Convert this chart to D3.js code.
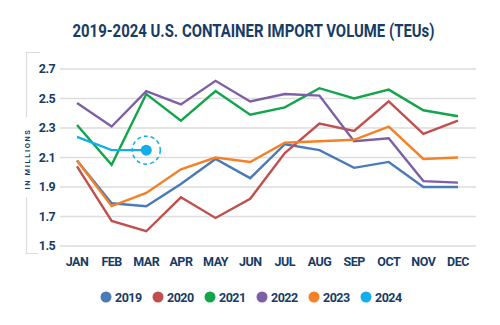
<!DOCTYPE html>
<html>
<head>
<meta charset="utf-8">
<script src="https://cdn.jsdelivr.net/npm/d3@7"></script>
<style>
  body { margin: 0; background: #fff; }
  svg { display: block; font-family: Roboto, "Liberation Sans", sans-serif; }
</style>
</head>
<body>
<div id="chart"></div>
<script>
const months = ['JAN', 'FEB', 'MAR', 'APR', 'MAY', 'JUN', 'JUL', 'AUG', 'SEP', 'OCT', 'NOV', 'DEC'];
const years = ['2019', '2020', '2021', '2022', '2023', '2024'];
const colors = ['#4a7bb7', '#c0504d', '#12a54b', '#7d5fa6', '#f58025', '#12aeec'];
const yTicks = [1.5, 1.7, 1.9, 2.1, 2.3, 2.5, 2.7];

const v2019 = [2.08, 1.79, 1.77, 1.92, 2.09, 1.96, 2.19, 2.15, 2.03, 2.07, 1.9, 1.9];
const v2020 = [2.04, 1.67, 1.6, 1.83, 1.69, 1.82, 2.13, 2.33, 2.28, 2.48, 2.26, 2.35];
const v2021 = [2.32, 2.05, 2.53, 2.35, 2.55, 2.39, 2.44, 2.57, 2.5, 2.56, 2.42, 2.38];
const v2022 = [2.47, 2.31, 2.55, 2.46, 2.62, 2.48, 2.53, 2.52, 2.21, 2.23, 1.94, 1.93];
const v2023 = [2.08, 1.77, 1.86, 2.02, 2.1, 2.07, 2.2, 2.21, 2.22, 2.31, 2.09, 2.1];
const v2024 = [2.24, 2.15, 2.15];

const series = [v2019, v2020, v2021, v2022, v2023, v2024];

const width = 500, height = 325;
const navy = '#173c66';

const svg = d3.select('#chart')
  .append('svg')
  .attr('width', width)
  .attr('height', height);

// title
svg.append('text')
  .attr('x', 253.5)
  .attr('y', 37)
  .attr('text-anchor', 'middle')
  .attr('textLength', 362)
  .attr('lengthAdjust', 'spacingAndGlyphs')
  .style('font-size', '17.5px')
  .style('font-weight', 700)
  .style('fill', navy)
  .text('2019-2024 U.S. CONTAINER IMPORT VOLUME (TEUs)');

const x = d3.scalePoint().domain(months).range([77, 458]);
const y = d3.scaleLinear().domain([1.5, 2.7]).range([246, 69]);

// left bracket around the y axis
const bracket = svg.append('g')
  .attr('stroke', '#dcdcdc')
  .attr('stroke-width', 1.2)
  .attr('fill', 'none');
bracket.append('path').attr('d', 'M40,52.5 H26.5 V117');
bracket.append('path').attr('d', 'M26.5,197 V253.5 H38');

// y axis title
svg.append('text')
  .attr('transform', 'translate(29.5,159) rotate(-90)')
  .attr('text-anchor', 'middle')
  .style('font-size', '7.5px')
  .style('font-weight', 700)
  .style('letter-spacing', '1.6px')
  .style('fill', navy)
  .text('IN MILLIONS');

// grid lines
svg.append('g')
  .selectAll('line')
  .data(yTicks)
  .enter()
  .append('line')
  .attr('x1', 60)
  .attr('x2', 476)
  .attr('y1', (d) => y(d))
  .attr('y2', (d) => y(d))
  .attr('stroke', '#dddddd')
  .attr('stroke-width', 1.5);

// y tick labels
svg.append('g')
  .selectAll('text')
  .data(yTicks)
  .enter()
  .append('text')
  .attr('x', 55)
  .attr('y', (d) => y(d))
  .attr('dy', '0.35em')
  .attr('text-anchor', 'end')
  .style('font-size', '12.5px')
  .style('font-weight', 700)
  .style('letter-spacing', '-0.6px')
  .style('fill', navy)
  .text((d) => d.toFixed(1));

// month labels
svg.append('g')
  .selectAll('text')
  .data(months)
  .enter()
  .append('text')
  .attr('x', (d) => x(d))
  .attr('y', 266)
  .attr('text-anchor', 'middle')
  .style('font-size', '12.5px')
  .style('font-weight', 700)
  .style('letter-spacing', '-0.5px')
  .style('fill', navy)
  .text((d) => d);

// lines
const line = d3.line()
  .x((d, i) => x(months[i]))
  .y((d) => y(d));

svg.append('g')
  .selectAll('path')
  .data(series)
  .enter()
  .append('path')
  .attr('d', (d) => line(d))
  .attr('fill', 'none')
  .attr('stroke', (d, i) => colors[i])
  .attr('stroke-width', 2.4)
  .attr('stroke-linejoin', 'miter');

// latest 2024 point highlight
const last = v2024.length - 1;
svg.append('circle')
  .attr('cx', x(months[last]))
  .attr('cy', y(v2024[last]))
  .attr('r', 14)
  .attr('fill', 'none')
  .attr('stroke', colors[5])
  .attr('stroke-width', 1.5)
  .attr('stroke-dasharray', '4 3');
svg.append('circle')
  .attr('cx', x(months[last]))
  .attr('cy', y(v2024[last]))
  .attr('r', 5.5)
  .attr('fill', colors[5]);

// legend
const legend = svg.append('g')
  .selectAll('g')
  .data(years)
  .enter()
  .append('g')
  .attr('transform', (d, i) => `translate(${106 + i * 52}, 297)`);
legend.append('circle')
  .attr('r', 5.5)
  .attr('fill', (d, i) => colors[i]);
legend.append('text')
  .attr('x', 9)
  .attr('dy', '0.36em')
  .style('font-size', '12.5px')
  .style('font-weight', 700)
  .style('letter-spacing', '-0.5px')
  .style('fill', navy)
  .text((d) => d);
</script>
</body>
</html>
